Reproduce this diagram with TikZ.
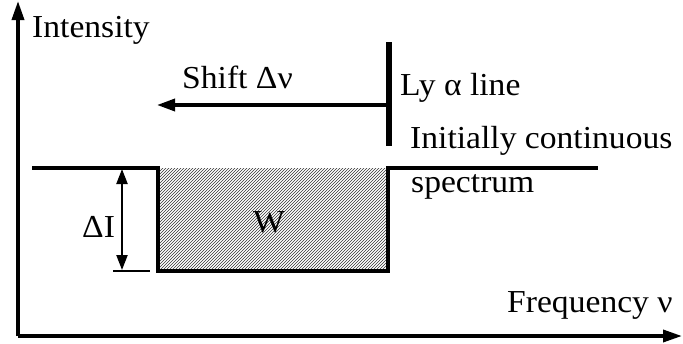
\documentclass[tikz,border=0pt]{standalone}
\usepackage{fontspec}
\setmainfont{Liberation Serif}[FakeStretch=1.05]
\usetikzlibrary{arrows.meta,patterns}
\begin{document}
\begin{tikzpicture}[x=1pt,y=-1pt,
  axis/.style={line width=3.5pt,-{Triangle[length=19pt,width=12pt]}},
  spec/.style={line width=3.5pt,line join=miter},
  lab/.style={inner sep=0pt,anchor=base west,font=\fontsize{32}{36}\selectfont},
  dim/.style={line width=2.2pt,{Triangle[length=15pt,width=11pt]}-{Triangle[length=15pt,width=11pt]}},
  shiftarr/.style={line width=3.5pt,-{Triangle[length=18pt,width=12pt]}}]
\useasboundingbox (0,0) rectangle (683,343);
% axes
\coordinate (O) at (18,336);
\coordinate (ytip) at (18,1);
\coordinate (xtip) at (682,336);
\draw[axis] (O) -- (ytip);
\draw[axis] (O) -- (xtip);
% spectrum
\coordinate (cL) at (32,168);
\coordinate (bTL) at (158,168);
\coordinate (bBL) at (158,271);
\coordinate (bBR) at (388,271);
\coordinate (bTR) at (388,168);
\coordinate (cR) at (598,168);
\fill[pattern=north east lines,pattern color=black!80] (bTL) rectangle (bBR);
\draw[spec] (cL) -- (bTL) -- (bBL) -- (bBR) -- (bTR) -- (cR);
% Ly alpha line and shift
\coordinate (ly1) at (389,42);
\coordinate (ly2) at (389,146);
\coordinate (sh0) at (389,105);
\coordinate (sh1) at (157,105);
\draw[line width=5.5pt] (ly1) -- (ly2);
\draw[shiftarr] (sh0) -- (sh1);
% Delta I
\coordinate (tk0) at (113,271);
\coordinate (tk1) at (150,271);
\coordinate (dI0) at (122,169);
\coordinate (dI1) at (122,270);
\draw[line width=2pt] (tk0) -- (tk1);
\draw[dim] (dI0) -- (dI1);
% labels
\node[lab] (tInt) at (32,37) {Intensity};
\node[lab] (tShift) at (182,88) {Shift Δν};
\node[lab] (tLy) at (400,95) {Ly α line};
\node[lab] (tInit) at (410,148) {Initially continuous};
\node[lab] (tSpec) at (411,192) {spectrum};
\node[lab] (tFreq) at (507,312) {Frequency ν};
\node[lab] (tDI) at (82,237) {ΔI};
\node[lab] (tW) at (253,232) {W};
\end{tikzpicture}
\end{document}
